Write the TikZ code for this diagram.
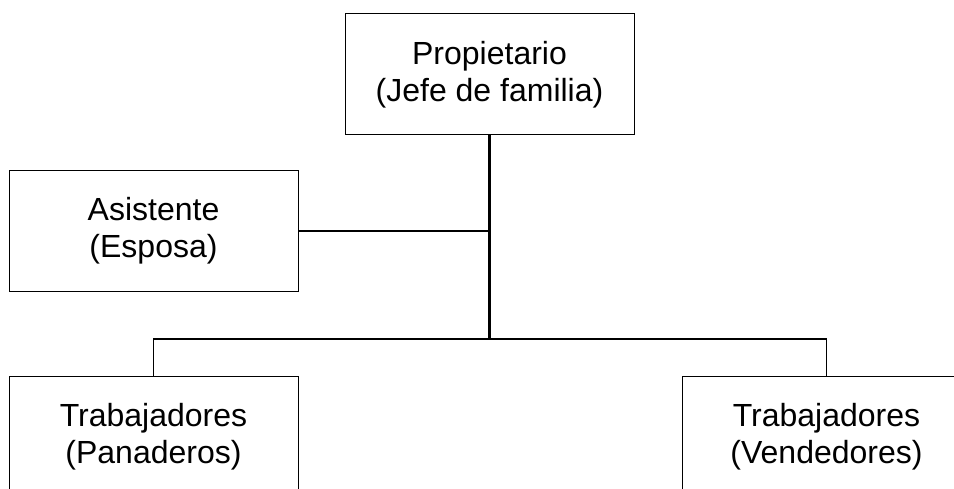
\documentclass[tikz,border=0pt]{standalone}
\usepackage{fontspec}
\setmainfont{Liberation Sans}
\begin{document}
\begin{tikzpicture}[x=1pt,y=-1pt,
  orgbox/.style={draw=black, line width=1pt, minimum width=289pt, minimum height=121pt,
    align=center, inner sep=0pt, font=\fontsize{32}{37}\selectfont},
  conn/.style={draw=black, line width=1.3pt},
  trunk/.style={draw=black, line width=2.6pt}]
\useasboundingbox (0,0) rectangle (954,489);
\clip (0,0) rectangle (954,489);
\fill[white] (0,0) rectangle (954,489);
\node[orgbox] (prop) at (489.5,74.5) {Propietario\\(Jefe de familia)};
\node[orgbox] (asis) at (153.5,231) {Asistente\\(Esposa)};
\node[orgbox] (pan) at (153.5,436.5) {Trabajadores\\(Panaderos)};
\node[orgbox] (ven) at (826.5,436.5) {Trabajadores\\(Vendedores)};
\coordinate (j) at (489.5,339);
\draw[trunk] (prop.south) -- (j);
\draw[conn] (asis.east) -- (asis.east -| prop.south);
\draw[conn] (pan.north) |- (j);
\draw[conn] (ven.north) |- (j);
\end{tikzpicture}
\end{document}
